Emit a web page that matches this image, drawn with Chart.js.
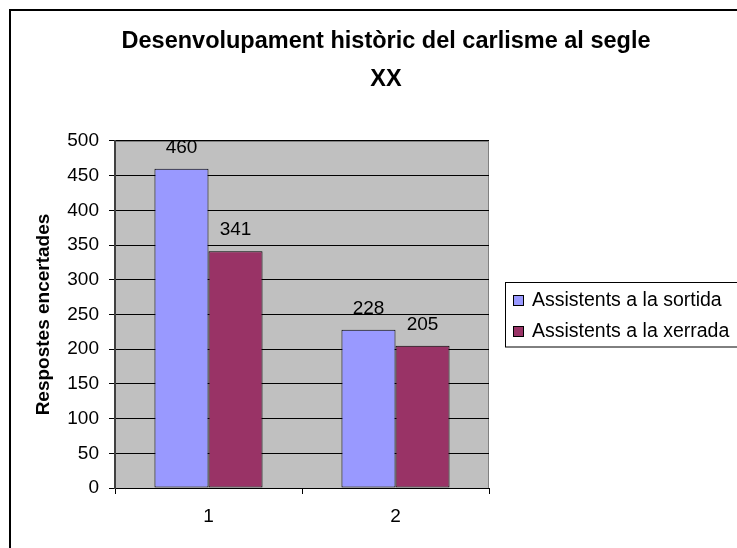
<!DOCTYPE html>
<html>
<head>
<meta charset="utf-8">
<script src="https://cdn.jsdelivr.net/npm/chart.js@4/dist/chart.umd.min.js"></script>
<style>
  html, body { margin: 0; padding: 0; background: #fff; overflow: hidden; }
  #wrap { width: 737px; height: 548px; overflow: hidden; position: relative; }
  #chart { position: absolute; left: 0; top: 0; }
</style>
</head>
<body>
<div id="wrap"><canvas id="chart" width="772" height="560"></canvas></div>
<script>
const categories = ['1', '2'];
const seriesNames = ['Assistents a la sortida', 'Assistents a la xerrada'];
const sortida = [460, 228];
const xerrada = [341, 205];
const seriesColors = ['#9999FF', '#993366'];
const yMin = 0;
const yMax = 500;
const yStep = 50;
const chartTitle = ['Desenvolupament històric del carlisme al segle', 'XX'];
const yTitle = 'Respostes encertades';

const font = 'Liberation Sans, Arial, sans-serif';

// gray plot area, outer frame, legend box, value labels
const framePlugin = {
    id: 'frame',
    beforeDraw(chart){
        let ctx = chart.ctx;
        let a = chart.chartArea;
        ctx.save();
        ctx.fillStyle = '#fff';
        ctx.fillRect(0, 0, chart.width, chart.height);
        ctx.fillStyle = '#C0C0C0';
        ctx.fillRect(a.left, a.top, a.right - a.left, a.bottom - a.top);
        ctx.strokeStyle = '#808080';
        ctx.lineWidth = 1;
        ctx.strokeRect(a.left, a.top + 0.5, a.right - a.left - 0.5, a.bottom - a.top);
        ctx.restore();
    },
    afterDatasetsDraw(chart){
        let ctx = chart.ctx;
        ctx.save();
        ctx.font = '19px ' + font;
        ctx.fillStyle = '#000';
        ctx.textAlign = 'center';
        ctx.textBaseline = 'alphabetic';
        chart.data.datasets.forEach((ds, i) => {
            chart.getDatasetMeta(i).data.forEach((bar, j) => {
                ctx.fillText(ds.data[j], bar.x, bar.y - 16);
            });
        });
        ctx.restore();
    },
    afterDraw(chart){
        let ctx = chart.ctx;
        ctx.save();
        // outer chart border
        ctx.strokeStyle = '#000';
        ctx.lineWidth = 2;
        ctx.strokeRect(10, 10, chart.width + 20, chart.height + 20);

        // legend
        ctx.lineWidth = 1;
        ctx.strokeRect(505.5, 282.5, 300, 64.5);
        ctx.font = '19.5px ' + font;
        ctx.textBaseline = 'middle';
        ctx.textAlign = 'left';
        let rows = [300, 331];
        chart.data.datasets.forEach((ds, i) => {
            ctx.fillStyle = ds.backgroundColor;
            ctx.fillRect(513.5, rows[i] - 4.5, 10, 10);
            ctx.strokeStyle = '#000';
            ctx.strokeRect(513.5, rows[i] - 4.5, 10, 10);
            ctx.fillStyle = '#000';
            ctx.fillText(ds.label, 532, rows[i] + 1);
        });
        ctx.restore();
    }
};

const ctx = document.getElementById('chart').getContext('2d');
const myChart = new Chart(ctx, {
    type: 'bar',
    data: {
        labels: categories,
        datasets: [{
            label: seriesNames[0],
            data: sortida,
            backgroundColor: seriesColors[0],
            borderColor: '#000',
            borderWidth: 1,
            borderSkipped: false,
            categoryPercentage: 0.578,
            barPercentage: 1
        }, {
            label: seriesNames[1],
            data: xerrada,
            backgroundColor: seriesColors[1],
            borderColor: '#000',
            borderWidth: 1,
            borderSkipped: false,
            categoryPercentage: 0.578,
            barPercentage: 1
        }]
    },
    options: {
        responsive: false,
        animation: false,
        events: [],
        layout: { padding: { left: 10, right: 10, top: 0, bottom: 12 } },
        plugins: {
            legend: { display: false },
            tooltip: { enabled: false },
            title: {
                display: true,
                text: chartTitle,
                color: '#000',
                font: { family: font, size: 23.5, weight: 'bold', lineHeight: 1.617 },
                padding: { top: 23, bottom: 42 }
            }
        },
        scales: {
            x: {
                grid: { offset: true, drawOnChartArea: false, color: '#000', tickLength: 6 },
                border: { color: '#000' },
                ticks: { color: '#000', font: { family: font, size: 19 }, padding: 11 },
                afterFit(scale){ scale.height = 60; }
            },
            y: {
                min: yMin,
                max: yMax,
                ticks: { stepSize: yStep, color: '#000', font: { family: font, size: 19 }, padding: 10 },
                grid: { color: '#000', tickLength: 6 },
                border: { color: '#404040', width: 2 },
                title: {
                    display: true,
                    text: yTitle,
                    color: '#000',
                    font: { family: font, size: 19, weight: 'bold' },
                    padding: { top: 22.6, bottom: 0 }
                },
                afterFit(scale){ scale.width = 105; }
            },
            // keeps room for the legend on the right
            y2: {
                position: 'right',
                display: true,
                grid: { display: false },
                border: { display: false },
                ticks: { display: false },
                afterFit(scale){ scale.width = 273; }
            }
        }
    },
    plugins: [framePlugin]
});
</script>
</body>
</html>
